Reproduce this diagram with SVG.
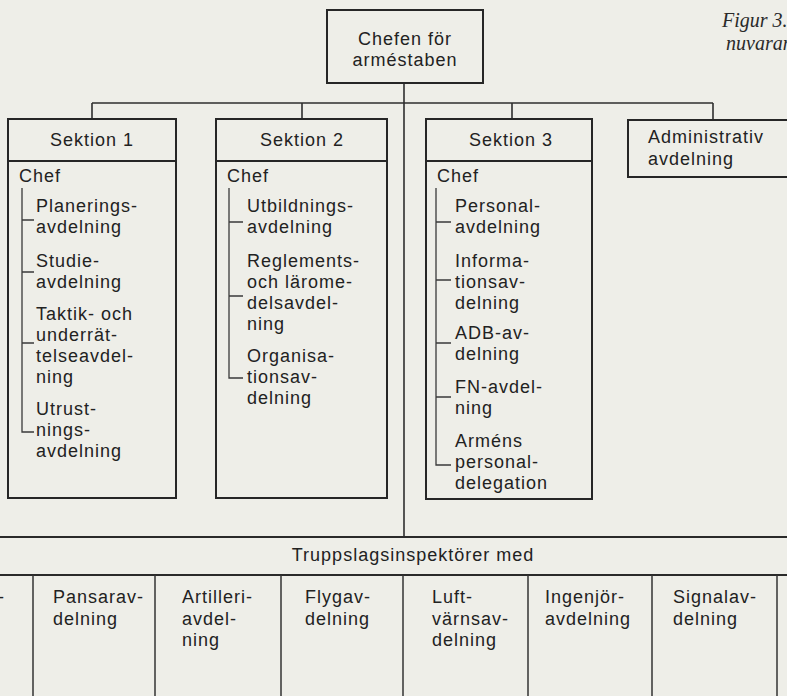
<svg xmlns="http://www.w3.org/2000/svg" width="787" height="696" viewBox="0 0 787 696">
  <style>
    .box { fill: none; stroke: #262626; stroke-width: 2; }
    .conn { fill: none; stroke: #2e2e2e; stroke-width: 1.6; }
    .tree { fill: none; stroke: #3a3a3a; stroke-width: 1.3; }
    .rule { fill: none; stroke: #2a2a2a; stroke-width: 2; }
    .col { fill: none; stroke: #333333; stroke-width: 1.5; }
    text { font-family: "Liberation Sans", Arial, sans-serif; font-size: 18px; fill: #222222; letter-spacing: 1px; }
    .c { text-anchor: middle; }
    .cap { font-family: "Liberation Serif", "Times New Roman", serif; font-style: italic; font-size: 20px; letter-spacing: 0; fill: #2a2a2a; }
  </style>
  <rect x="0" y="0" width="787" height="696" fill="#eeeee8"/>

  <!-- caption, running off the right edge -->
  <text class="cap" x="722" y="27">Figur 3.</text>
  <text class="cap" x="726" y="50">nuvaran</text>

  <!-- connectors -->
  <g id="connectors">
    <line class="conn" x1="404" y1="83" x2="404" y2="537"/>
    <line class="conn" x1="92" y1="103" x2="713" y2="103"/>
    <line class="conn" x1="92" y1="103" x2="92" y2="119"/>
    <line class="conn" x1="302" y1="103" x2="302" y2="119"/>
    <line class="conn" x1="512" y1="103" x2="512" y2="119"/>
    <line class="conn" x1="713" y1="103" x2="713" y2="120"/>
  </g>

  <!-- top node -->
  <g id="chefen">
    <rect class="box" x="327" y="10" width="156" height="73"/>
    <text class="c" x="405" y="45">Chefen för</text>
    <text class="c" x="405" y="66">arméstaben</text>
  </g>

  <!-- Sektion 1 -->
  <g id="sektion1">
    <rect class="box" x="8" y="119" width="168" height="379"/>
    <line class="box" x1="8" y1="161" x2="176" y2="161"/>
    <text class="c" x="92" y="146">Sektion 1</text>
    <text x="19" y="182">Chef</text>
    <path class="tree" d="M22 188 V432 H34 M22 220 H34 M22 272 H34 M22 343 H34"/>
    <text x="36" y="212">Planerings-</text>
    <text x="36" y="233">avdelning</text>
    <text x="36" y="267">Studie-</text>
    <text x="36" y="288">avdelning</text>
    <text x="36" y="320">Taktik- och</text>
    <text x="36" y="341">underrät-</text>
    <text x="36" y="362">telseavdel-</text>
    <text x="36" y="383">ning</text>
    <text x="36" y="415">Utrust-</text>
    <text x="36" y="436">nings-</text>
    <text x="36" y="457">avdelning</text>
  </g>

  <!-- Sektion 2 -->
  <g id="sektion2">
    <rect class="box" x="216" y="119" width="171" height="379"/>
    <line class="box" x1="216" y1="161" x2="387" y2="161"/>
    <text class="c" x="302" y="146">Sektion 2</text>
    <text x="227" y="182">Chef</text>
    <path class="tree" d="M229 188 V378 H243 M229 222 H243 M229 296 H243"/>
    <text x="247" y="212">Utbildnings-</text>
    <text x="247" y="233">avdelning</text>
    <text x="247" y="267">Reglements-</text>
    <text x="247" y="288">och lärome-</text>
    <text x="247" y="309">delsavdel-</text>
    <text x="247" y="330">ning</text>
    <text x="247" y="362">Organisa-</text>
    <text x="247" y="383">tionsav-</text>
    <text x="247" y="404">delning</text>
  </g>

  <!-- Sektion 3 -->
  <g id="sektion3">
    <rect class="box" x="426" y="119" width="166" height="380"/>
    <line class="box" x1="426" y1="161" x2="592" y2="161"/>
    <text class="c" x="511" y="146">Sektion 3</text>
    <text x="437" y="182">Chef</text>
    <path class="tree" d="M436 188 V465 H451 M436 222 H451 M436 280 H451 M436 343 H451 M436 397 H451"/>
    <text x="455" y="212">Personal-</text>
    <text x="455" y="233">avdelning</text>
    <text x="455" y="267">Informa-</text>
    <text x="455" y="288">tionsav-</text>
    <text x="455" y="309">delning</text>
    <text x="455" y="339">ADB-av-</text>
    <text x="455" y="360">delning</text>
    <text x="455" y="393">FN-avdel-</text>
    <text x="455" y="414">ning</text>
    <text x="455" y="447">Arméns</text>
    <text x="455" y="468">personal-</text>
    <text x="455" y="489">delegation</text>
  </g>

  <!-- Administrativ avdelning (runs off the right edge) -->
  <g id="administrativ">
    <rect class="box" x="628" y="120" width="172" height="57"/>
    <text x="648" y="143">Administrativ</text>
    <text x="648" y="165">avdelning</text>
  </g>

  <!-- inspectorate band -->
  <g id="truppslag">
    <line class="rule" x1="0" y1="537" x2="787" y2="537"/>
    <text class="c" x="413" y="561">Truppslagsinspektörer med</text>
    <line class="rule" x1="0" y1="575" x2="787" y2="575"/>
  </g>

  <g id="avdelningar">
    <line class="col" x1="33" y1="575" x2="33" y2="696"/>
    <line class="col" x1="155" y1="575" x2="155" y2="696"/>
    <line class="col" x1="281" y1="575" x2="281" y2="696"/>
    <line class="col" x1="403" y1="575" x2="403" y2="696"/>
    <line class="col" x1="528" y1="575" x2="528" y2="696"/>
    <line class="col" x1="652" y1="575" x2="652" y2="696"/>
    <line class="col" x1="777" y1="575" x2="777" y2="696"/>
    <text x="-2" y="603">-</text>
    <g id="pansar"><text x="53" y="603">Pansarav-</text><text x="53" y="625">delning</text></g>
    <g id="artilleri"><text x="182" y="603">Artilleri-</text><text x="182" y="625">avdel-</text><text x="182" y="646">ning</text></g>
    <g id="flyg"><text x="305" y="603">Flygav-</text><text x="305" y="625">delning</text></g>
    <g id="luftvarn"><text x="432" y="603">Luft-</text><text x="432" y="625">värnsav-</text><text x="432" y="646">delning</text></g>
    <g id="ingenjor"><text x="545" y="603">Ingenjör-</text><text x="545" y="625">avdelning</text></g>
    <g id="signal"><text x="673" y="603">Signalav-</text><text x="673" y="625">delning</text></g>
  </g>
</svg>
